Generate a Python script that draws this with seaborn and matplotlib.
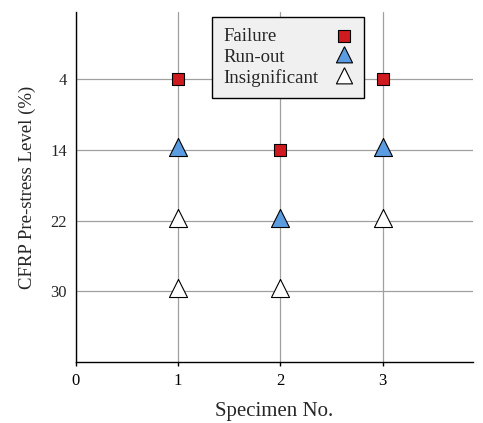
import matplotlib
matplotlib.use("Agg")
import matplotlib.pyplot as plt
import seaborn as sns
import pandas as pd

levels = ["4", "14", "22", "30"]

failure_x = [1, 2, 3]
failure_y = ["4", "14", "4"]
runout_x = [1, 2, 3]
runout_y = ["14", "22", "14"]
insig_x = [1, 3, 1, 2]
insig_y = ["22", "22", "30", "30"]

sns.set_style("white")
plt.rcParams['font.family'] = ['Liberation Serif', 'DejaVu Serif']
plt.rcParams['font.size'] = 12

fig = plt.figure(figsize=(4.83, 4.23), dpi=100)
ax = fig.add_axes([0.157, 0.144, 0.822, 0.828])

def pos(ys):
    return [levels.index(v) for v in ys]

df_f = pd.DataFrame({"x": failure_x, "y": pos(failure_y)})
df_r = pd.DataFrame({"x": runout_x, "y": pos(runout_y)})
df_i = pd.DataFrame({"x": insig_x, "y": pos(insig_y)})

# centroid-centred triangle
tri = [(0, 1.3333), (-1, -0.6667), (1, -0.6667), (0, 1.3333)]

sns.scatterplot(data=df_f, x="x", y="y", ax=ax, marker="s", s=72,
                color="#cf1b1f", edgecolor="black", linewidth=0.8, label="Failure", zorder=3)
sns.scatterplot(data=df_r, x="x", y="y", ax=ax, marker=tri, s=300,
                color="#5b9be0", edgecolor="black", linewidth=0.8, label="Run-out", zorder=3)
sns.scatterplot(data=df_i, x="x", y="y", ax=ax, marker=tri, s=300,
                color="white", edgecolor="black", linewidth=0.8, label="Insignificant", zorder=3)

ax.set_xlim(0, 3.88)
ax.set_ylim(4, -0.95)
ax.set_xticks([0, 1, 2, 3])
ax.set_yticks(range(len(levels)))
ax.set_yticklabels(levels)
ax.grid(True, color="#a0a0a0", linewidth=0.9)
ax.set_axisbelow(True)
for s in ["top", "right"]:
    ax.spines[s].set_visible(False)
for s in ["left", "bottom"]:
    ax.spines[s].set_color("black")
    ax.spines[s].set_linewidth(1.0)
ax.tick_params(axis="x", bottom=True, length=3, width=1, colors="black", labelsize=12, pad=5)
ax.tick_params(axis="y", left=False, length=0, labelsize=12, pad=6.5)
ax.set_xlabel("Specimen No.", fontsize=15, labelpad=9)
ax.set_ylabel("CFRP Pre-stress Level (%)", fontsize=13.5, labelpad=10)

leg = ax.legend(loc="upper left", bbox_to_anchor=(0.3426, 0.9857), markerfirst=False,
                frameon=True, fancybox=False, framealpha=1, facecolor="#f0f0f0",
                edgecolor="black", fontsize=13.5, handletextpad=0.8,
                borderpad=0.6, labelspacing=0.18, handlelength=1.0, borderaxespad=0)
leg.get_frame().set_linewidth(1.0)
leg.set_zorder(5)
for h in leg.legend_handles[1:]:
    try:
        h.set_sizes([h.get_sizes()[0] * 0.8])
    except Exception:
        pass

# left-align legend texts while keeping markers on the right
fig.canvas.draw()
renderer = fig.canvas.get_renderer()
for col in leg._legend_handle_box.get_children():
    rows = col.get_children()
    W = max(r.get_bbox(renderer).width for r in rows) + 1
    for r in rows:
        r.mode = "expand"
        r.width = W

fig.savefig("out.png", dpi=100)
